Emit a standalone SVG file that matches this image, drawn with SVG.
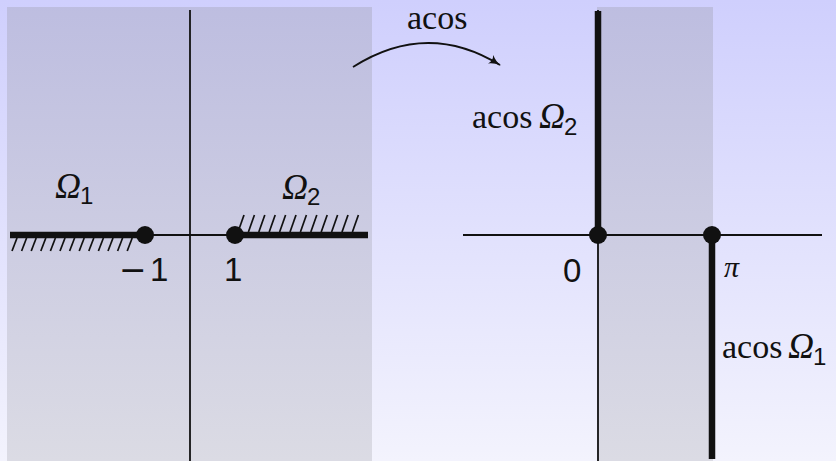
<svg xmlns="http://www.w3.org/2000/svg" width="836" height="461" viewBox="0 0 836 461">
  <defs>
    <linearGradient id="bg" x1="0" y1="0" x2="0" y2="1">
      <stop offset="0" stop-color="#cfcffd"/>
      <stop offset="1" stop-color="#f3f3fd"/>
    </linearGradient>
    <linearGradient id="panel" x1="0" y1="0" x2="0" y2="461" gradientUnits="userSpaceOnUse">
      <stop offset="0" stop-color="#bdbde0"/>
      <stop offset="1" stop-color="#dbdbe4"/>
    </linearGradient>
    <marker id="arrow" viewBox="0 0 12 10" refX="11" refY="5" markerWidth="12" markerHeight="10" markerUnits="userSpaceOnUse" orient="auto">
      <path d="M0,0 Q5,4 12,5 Q5,6 0,10 Q3,5 0,0 Z" fill="#111"/>
    </marker>
    <style>
      .thin { stroke: #111; stroke-width: 1.8; fill: none; }
      .thick { stroke: #111; stroke-width: 6.5; fill: none; }
      .hatch { stroke: #111; stroke-width: 1.7; fill: none; }
      .dot { fill: #111; }
      .sans { font-family: "Liberation Sans", Arial, sans-serif; fill: #111; }
      .serif { font-family: "Liberation Serif", "Times New Roman", serif; fill: #111; }
      .om { font-family: "Liberation Serif", "Times New Roman", serif; font-style: italic; fill: #111; font-size: 36px; }
      .minus { font-family: "DejaVu Sans", sans-serif; }
      .num { font-size: 33px; }
      .sub { font-size: 24px; }
      .word { font-size: 34px; }
    </style>
  </defs>

  <rect x="0" y="0" width="836" height="461" fill="url(#bg)"/>

  <g id="domain-panel">
    <rect x="7" y="7" width="365" height="454" fill="url(#panel)"/>
    <line class="thin" x1="190" y1="10" x2="190" y2="461"/>
    <line class="thin" x1="10" y1="235" x2="368" y2="235"/>
  </g>

  <g id="omega1-set">
    <line class="thick" x1="10" y1="235" x2="145" y2="235"/>
    <g class="hatch">
      <line x1="12" y1="251" x2="17" y2="238"/>
      <line x1="21.6" y1="251" x2="26.6" y2="238"/>
      <line x1="31.2" y1="251" x2="36.2" y2="238"/>
      <line x1="40.8" y1="251" x2="45.8" y2="238"/>
      <line x1="50.4" y1="251" x2="55.4" y2="238"/>
      <line x1="60" y1="251" x2="65" y2="238"/>
      <line x1="69.6" y1="251" x2="74.6" y2="238"/>
      <line x1="79.2" y1="251" x2="84.2" y2="238"/>
      <line x1="88.8" y1="251" x2="93.8" y2="238"/>
      <line x1="98.4" y1="251" x2="103.4" y2="238"/>
      <line x1="108" y1="251" x2="113" y2="238"/>
      <line x1="117.6" y1="251" x2="122.6" y2="238"/>
      <line x1="127.2" y1="251" x2="132.2" y2="238"/>
    </g>
    <circle class="dot" cx="145" cy="235" r="9"/>
    <text class="om" x="55" y="198">Ω</text>
    <text class="sans sub" x="80" y="204">1</text>
    <text class="sans num" x="119" y="281"><tspan class="minus">−</tspan><tspan x="150">1</tspan></text>
  </g>

  <g id="omega2-set">
    <line class="thick" x1="235" y1="235" x2="368" y2="235"/>
    <g class="hatch">
      <line x1="238" y1="232" x2="244" y2="215"/>
      <line x1="248.4" y1="232" x2="254.4" y2="215"/>
      <line x1="258.8" y1="232" x2="264.8" y2="215"/>
      <line x1="269.2" y1="232" x2="275.2" y2="215"/>
      <line x1="279.6" y1="232" x2="285.6" y2="215"/>
      <line x1="290" y1="232" x2="296" y2="215"/>
      <line x1="300.4" y1="232" x2="306.4" y2="215"/>
      <line x1="310.8" y1="232" x2="316.8" y2="215"/>
      <line x1="321.2" y1="232" x2="327.2" y2="215"/>
      <line x1="331.6" y1="232" x2="337.6" y2="215"/>
      <line x1="342" y1="232" x2="348" y2="215"/>
      <line x1="352.4" y1="232" x2="358.4" y2="215"/>
    </g>
    <circle class="dot" cx="235" cy="235" r="9"/>
    <text class="om" x="282" y="199">Ω</text>
    <text class="sans sub" x="307" y="205">2</text>
    <text class="sans num" x="224" y="281">1</text>
  </g>

  <g id="image-panel">
    <rect x="597" y="7" width="116" height="454" fill="url(#panel)"/>
    <line class="thin" x1="598" y1="10" x2="598" y2="461"/>
    <line class="thin" x1="463" y1="235" x2="822" y2="235"/>
    <text class="sans num" x="563" y="282">0</text>
    <text class="serif" font-style="italic" font-size="30" x="724" y="277">π</text>
  </g>

  <g id="acos-omega2">
    <line class="thick" x1="598" y1="11" x2="598" y2="235"/>
    <circle class="dot" cx="598" cy="235" r="9"/>
    <text class="serif word" x="472" y="128">acos</text>
    <text class="om" x="539" y="128">Ω</text>
    <text class="sans sub" x="564" y="135">2</text>
  </g>

  <g id="acos-omega1">
    <line class="thick" x1="712" y1="235" x2="712" y2="459"/>
    <circle class="dot" cx="712" cy="235" r="9"/>
    <text class="serif word" x="722" y="358">acos</text>
    <text class="om" x="788" y="358">Ω</text>
    <text class="sans sub" x="813" y="365">1</text>
  </g>

  <g id="connectors">
    <path class="thin" d="M353,67 Q427,20 500,65" marker-end="url(#arrow)"/>
    <text class="serif word" x="407" y="29">acos</text>
  </g>
</svg>
